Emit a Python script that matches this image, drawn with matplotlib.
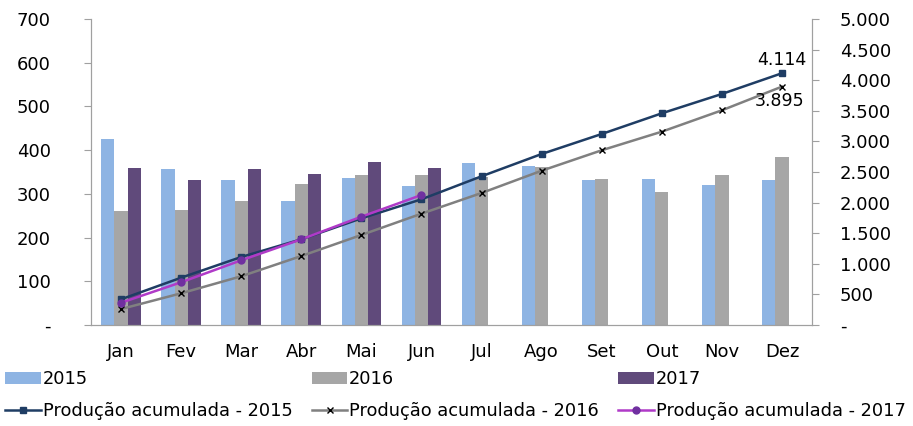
import matplotlib
matplotlib.use("Agg")
import matplotlib.pyplot as plt
import numpy as np

# monthly production (left axis)
months = ["Jan", "Fev", "Mar", "Abr", "Mai", "Jun", "Jul", "Ago", "Set", "Out", "Nov", "Dez"]
prod_2015 = [425, 357, 331, 284, 336, 317, 370, 364, 332, 334, 320, 331]
prod_2016 = [260, 262, 284, 323, 342, 344, 339, 362, 334, 304, 344, 384]
prod_2017 = [360, 331, 358, 345, 372, 360]

# accumulated production (right axis)
acum_2015 = [420, 773, 1111, 1400, 1743, 2054, 2430, 2794, 3121, 3459, 3775, 4114]
acum_2016 = [261, 518, 796, 1127, 1471, 1819, 2157, 2521, 2855, 3159, 3508, 3895]
acum_2017 = [364, 698, 1057, 1400, 1770, 2124]

left_ticks = [0, 100, 200, 300, 400, 500, 600, 700]
left_labels = ["-", "100", "200", "300", "400", "500", "600", "700"]
right_ticks = [0, 500, 1000, 1500, 2000, 2500, 3000, 3500, 4000, 4500, 5000]
right_labels = ["-", "500", "1.000", "1.500", "2.000", "2.500", "3.000",
                "3.500", "4.000", "4.500", "5.000"]

c15, c16, c17 = "#8EB4E3", "#A6A6A6", "#604A7B"
spine_c = "#A0A0A0"

plt.rcParams["font.family"] = ["DejaVu Sans"]

fig = plt.figure(figsize=(9.13, 4.26), dpi=100)
ax = fig.add_axes([0.0997, 0.2371, 0.7897, 0.7183])
ax2 = ax.twinx()

x = np.arange(len(months))
w = 0.22
b1 = ax.bar(x - w, prod_2015, w, color=c15, label="2015")
b2 = ax.bar(x, prod_2016, w, color=c16, label="2016")
b3 = ax.bar(x[:len(prod_2017)] + w, prod_2017, w, color=c17, label="2017")

l1, = ax2.plot(x, acum_2015, color="#1F3D64", lw=1.8, marker="s", ms=4.5,
               label="Produção acumulada - 2015")
l2, = ax2.plot(x, acum_2016, color="#808080", lw=1.8, marker="x", ms=4.5,
               mec="black", mew=1.0, label="Produção acumulada - 2016")
l3, = ax2.plot(x[:len(acum_2017)], acum_2017, color="#B03AC8", lw=1.8, marker="o",
               ms=5, mfc="#7030A0", mec="#7030A0", label="Produção acumulada - 2017")

ax2.annotate("4.114", (x[-1], acum_2015[-1]), xytext=(0, 3), textcoords="offset points",
             ha="center", va="bottom", fontsize=12.5)
ax2.annotate("3.895", (x[-1], acum_2016[-1]), xytext=(-2, -4), textcoords="offset points",
             ha="center", va="top", fontsize=12.5)

ax.set_xlim(-0.5, len(months) - 0.5)
ax.set_ylim(0, 700)
ax2.set_ylim(0, 5000)
ax.set_xticks(x)
ax.set_xticklabels(months, fontsize=13)
ax.tick_params(axis="x", length=0, pad=13)
ax.set_yticks(left_ticks)
ax.set_yticklabels(left_labels, fontsize=13)
ax.tick_params(axis="y", length=5, color=spine_c, pad=24)
ax2.set_yticks(right_ticks)
ax2.set_yticklabels(right_labels, fontsize=13)
ax2.tick_params(axis="y", length=5, color=spine_c, pad=15)

for a in (ax, ax2):
    a.spines["top"].set_visible(False)
    for s in ("left", "right", "bottom"):
        a.spines[s].set_color(spine_c)

handles = [b1, l1, b2, l2, b3, l3]
labels = [h.get_label() for h in handles]
fig.legend(handles, labels, ncol=3, loc="lower left", bbox_to_anchor=(-0.006, -0.012),
           frameon=False, fontsize=12.8, handlelength=2.0, handletextpad=0.1,
           columnspacing=1.1, labelspacing=0.8, borderaxespad=0.2)

fig.savefig("out.png", dpi=100)
